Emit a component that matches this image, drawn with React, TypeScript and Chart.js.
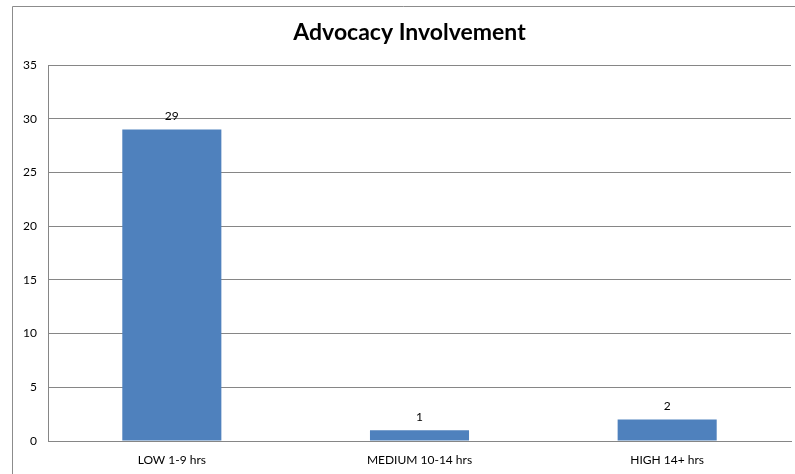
import React, { useEffect, useRef } from "react";
import { Chart, registerables } from "chart.js";

Chart.register(...registerables);

const categories = ["LOW 1-9 hrs", "MEDIUM 10-14 hrs", "HIGH 14+ hrs"];
const values = [29, 1, 2];
const yMin = 0;
const yMax = 35;
const yStep = 5;
const titleText = "Advocacy Involvement";

const FONT = "Lato, 'Open Sans', sans-serif";
const GRID = "#868686";

const framePlugin = {
  id: "frame",
  beforeDraw(chart: any) {
    const ctx = chart.ctx;
    ctx.save();
    ctx.fillStyle = "#ffffff";
    ctx.fillRect(0, 0, chart.width, chart.height);
    ctx.strokeStyle = "#8c8c8c";
    ctx.lineWidth = 1;
    ctx.beginPath();
    ctx.moveTo(12.5, chart.height);
    ctx.lineTo(12.5, 6.5);
    ctx.lineTo(chart.width, 6.5);
    ctx.stroke();
    ctx.fillStyle = "#000000";
    ctx.font = `bold 23px ${FONT}`;
    ctx.textAlign = "center";
    ctx.textBaseline = "middle";
    ctx.fillText(titleText, 409.5, 33);
    ctx.restore();
  },
};

const labelPlugin = {
  id: "barLabels",
  afterDatasetsDraw(chart: any) {
    const ctx = chart.ctx;
    const meta = chart.getDatasetMeta(0);
    ctx.save();
    ctx.fillStyle = "#000000";
    ctx.font = `12px ${FONT}`;
    ctx.textAlign = "center";
    ctx.textBaseline = "middle";
    meta.data.forEach((bar: any, i: number) => {
      ctx.fillText(String(values[i]), bar.x, bar.y - 13);
    });
    ctx.restore();
  },
};

export default function App() {
  const ref = useRef<HTMLCanvasElement>(null);
  useEffect(() => {
    if (!ref.current) return;
    const chart = new Chart(ref.current, {
      type: "bar",
      data: {
        labels: categories,
        datasets: [
          {
            data: values,
            backgroundColor: "#4F81BD",
            borderWidth: 0,
            barPercentage: 0.4,
            categoryPercentage: 1,
          },
        ],
      },
      options: {
        animation: false,
        responsive: false,
        maintainAspectRatio: false,
        layout: { padding: { left: 0, right: 4, top: 65, bottom: 0 } },
        plugins: {
          legend: { display: false },
          tooltip: { enabled: false },
          title: { display: false },
        },
        scales: {
          x: {
            afterFit(scale: any) {
              scale.height = 33;
            },
            grid: { display: false, drawTicks: false },
            border: { display: true, color: GRID, width: 1 },
            ticks: { color: "#000000", font: { family: FONT, size: 12 }, padding: 12, maxRotation: 0 },
          },
          y: {
            min: yMin,
            max: yMax,
            afterFit(scale: any) {
              scale.width = 48;
            },
            grid: { color: GRID, drawTicks: false },
            border: { display: true, color: GRID, width: 1 },
            ticks: {
              stepSize: yStep,
              color: "#000000",
              font: { family: FONT, size: 12 },
              padding: 11,
            },
          },
        },
      },
      plugins: [framePlugin, labelPlugin],
    });
    return () => chart.destroy();
  }, []);
  return (
    <div style={{ position: "fixed", left: 0, top: 0, width: 795, height: 474 }}>
      <canvas ref={ref} width={795} height={474} style={{ display: "block" }} />
    </div>
  );
}
